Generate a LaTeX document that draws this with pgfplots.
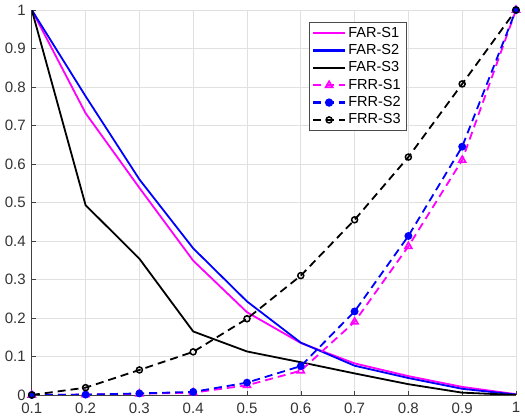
\documentclass[border=0pt]{standalone}
\usepackage{fontspec}
\setmainfont{Liberation Sans}
\usepackage{pgfplots}
\pgfplotsset{compat=1.18}
\definecolor{mag}{RGB}{255,0,255}
\definecolor{blu}{RGB}{0,0,255}
\begin{document}
\fontsize{14.5}{15}\selectfont
\begin{tikzpicture}
\begin{axis}[
  scale only axis, width=483pt, height=384pt,
  xmin=0.1, xmax=1, ymin=0, ymax=1,
  xtick={0.1,0.2,...,1.0}, ytick={0,0.1,...,1.0},
  xticklabels={0.1,0.2,0.3,0.4,0.5,0.6,0.7,0.8,0.9,1},
  yticklabels={0,0.1,0.2,0.3,0.4,0.5,0.6,0.7,0.8,0.9,1},
  axis x line*=bottom, axis y line*=left,
  axis line style={black!75, line width=0.7pt},
  tick style={black!75}, tick align=inside, major tick length=4pt,
  grid=major, grid style={black!12, line width=0.7pt},
  ticklabel style={font=\fontsize{15}{17}\selectfont, text=black!80},
  yticklabel style={xshift=-1pt},
  xticklabel style={yshift=-2.5pt},
  /pgf/number format/assume math mode=true,
  every axis plot/.append style={line width=1.8pt},
  legend style={at={(axis cs:0.7955,0.968)}, anchor=north east, draw=black!70, fill=white, row sep=1pt, inner xsep=3pt, inner ysep=2.5pt},
  legend cell align=left,
  legend image post style={line width=2.2pt},
  legend image code/.code={\draw[mark repeat=2,mark phase=2] plot coordinates {(0pt,0pt)(16pt,0pt)(32pt,0pt)};},
]
\addplot[mag, no marks] coordinates {(0.1,1)(0.2,0.732)(0.3,0.538)(0.4,0.349)(0.5,0.215)(0.6,0.135)(0.7,0.082)(0.8,0.049)(0.9,0.021)(1,0.002)};
\addlegendentry{FAR-S1}
\addplot[blu, no marks] coordinates {(0.1,1)(0.2,0.776)(0.3,0.56)(0.4,0.381)(0.5,0.243)(0.6,0.136)(0.7,0.076)(0.8,0.044)(0.9,0.016)(1,0.001)};
\addlegendentry{FAR-S2}
\addplot[black, no marks] coordinates {(0.1,1)(0.2,0.493)(0.3,0.354)(0.4,0.165)(0.5,0.113)(0.6,0.085)(0.7,0.056)(0.8,0.028)(0.9,0.006)(1,0.0)};
\addlegendentry{FAR-S3}
\addplot[mag, dash pattern=on 8pt off 5pt, mark=triangle, mark size=4pt, mark options={solid, line width=1.6pt}] coordinates {(0.1,0)(0.2,0.001)(0.3,0.003)(0.4,0.006)(0.5,0.025)(0.6,0.063)(0.7,0.19)(0.8,0.386)(0.9,0.61)(1,1)};
\addlegendentry{FRR-S1}
\addplot[blu, dash pattern=on 8pt off 5pt, mark=*, mark size=3pt, mark options={solid}] coordinates {(0.1,0)(0.2,0.001)(0.3,0.004)(0.4,0.008)(0.5,0.032)(0.6,0.075)(0.7,0.217)(0.8,0.413)(0.9,0.645)(1,1)};
\addlegendentry{FRR-S2}
\addplot[black, dash pattern=on 8pt off 5pt, mark=o, mark size=3pt, mark options={solid, line width=1.5pt}] coordinates {(0.1,0)(0.2,0.019)(0.3,0.065)(0.4,0.112)(0.5,0.198)(0.6,0.31)(0.7,0.455)(0.8,0.618)(0.9,0.808)(1,1)};
\addlegendentry{FRR-S3}
\end{axis}
\end{tikzpicture}
\end{document}
